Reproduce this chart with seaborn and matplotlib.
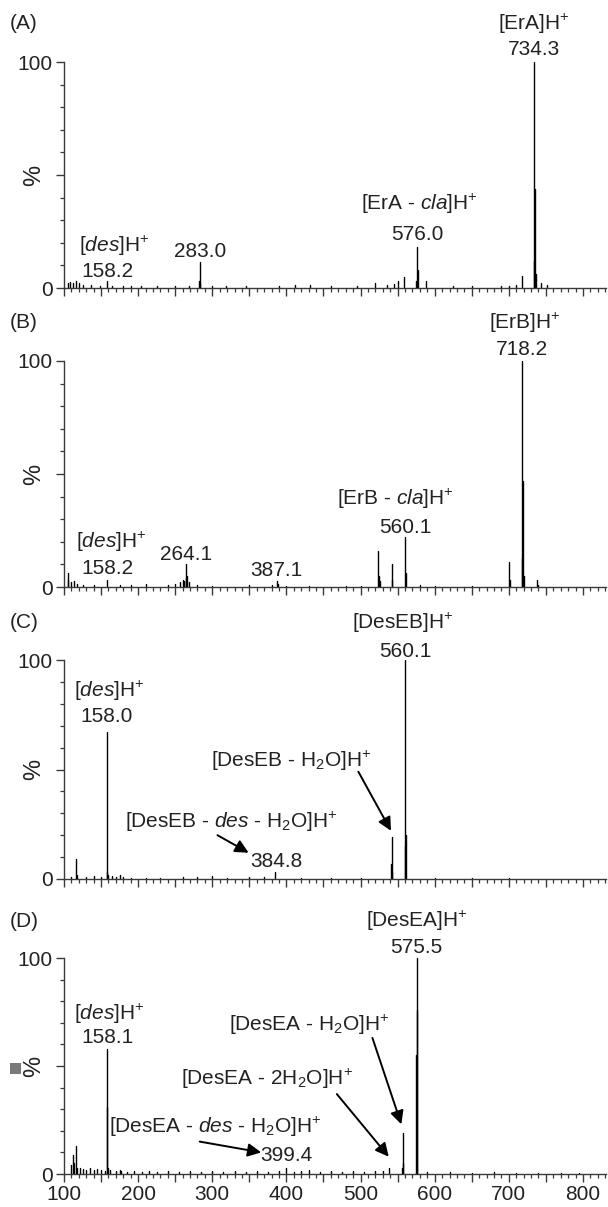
import numpy as np
import pandas as pd
import seaborn as sns
import matplotlib
matplotlib.use("Agg")
import matplotlib.pyplot as plt
from matplotlib.ticker import MultipleLocator, FixedLocator, FuncFormatter
from matplotlib.patches import Rectangle

# ---------------- data (m/z, relative intensity %) ----------------
a_mz = [105, 108, 112, 116, 120, 126, 137, 148, 158.2, 165, 180, 190, 204, 226, 250, 268,
        282, 283.0, 284, 300, 318, 345, 390, 412, 432, 460, 495, 520, 535, 545, 550, 559,
        575, 576.0, 577, 588, 625, 650, 690, 700, 710, 718, 733.6, 734.3, 735.0, 736, 744, 752]
a_int = [2, 2.5, 2, 3, 2, 1.5, 1.5, 1, 3, 1, 0.8, 0.8, 1, 0.8, 0.8, 1,
         3, 11.5, 2, 0.8, 0.8, 0.8, 0.8, 1.5, 1.2, 0.8, 1, 2, 1.2, 1.8, 3, 5,
         3, 18, 8, 3, 1, 0.8, 1, 1, 1.5, 5.5, 12, 100, 44, 6, 2, 1.5]

b_mz = [105, 106, 110, 114, 118, 125, 140, 158.2, 175, 190, 210, 240, 250, 256, 260, 262,
        264.1, 265, 266, 268, 280, 300, 350, 380, 387.1, 388, 400, 430, 480, 500,
        524, 525, 526, 542, 543, 560.1, 561, 580, 600, 650, 700, 701,
        717.6, 718.2, 718.9, 720, 738, 739]
b_int = [6, 3, 2, 2.5, 1.5, 1, 0.8, 3, 1, 1, 1.5, 1, 1.5, 2, 3, 2.5,
         10, 4, 5, 2, 1, 0.5, 0.8, 1, 2.5, 1.5, 0.5, 0.5, 0.5, 0.5,
         16, 5, 2.5, 10, 3, 22, 6, 0.8, 0.5, 0.5, 11, 3,
         13, 100, 47, 5, 3, 1]

c_mz = [110, 116, 117, 130, 140, 150, 157.4, 158.0, 159, 165, 170, 176, 180, 190, 210,
        230, 260, 280, 300, 320, 350, 370, 384.8, 420, 460, 500,
        541.5, 542.1, 542.8, 559.5, 560.1, 560.7, 600, 650, 700]
c_int = [1, 9, 2, 1, 1.2, 1, 3, 67, 2, 1.5, 1, 2, 1, 0.6, 0.6,
         0.6, 1, 0.8, 1.5, 0.6, 0.8, 1, 3, 0.6, 0.6, 0.6,
         7, 19, 3, 15, 100, 20, 0.5, 0.4, 0.4]

d_mz = [110, 112, 114, 116, 118, 122, 126, 130, 135, 140, 145, 150, 155, 157.5, 158.1, 159,
        162, 170, 175, 177, 185, 195, 205, 215, 225, 240, 255, 270, 285, 300, 315, 330,
        345, 360, 375, 390, 399.4, 410, 420, 430, 445, 460, 475, 490, 505, 520, 530, 539,
        556.4, 557.0, 557.6, 574.9, 575.5, 576.1, 590, 620, 650, 680, 710, 740, 770, 795]
d_int = [4, 9, 5, 13, 3, 3, 2.5, 2, 3, 2, 2.5, 2, 1.5, 31, 58, 3,
         2, 1.5, 2, 1.5, 1, 1.5, 1, 1.5, 1, 1.2, 1, 1.5, 1, 1.2, 1, 1.5,
         1, 1.2, 1, 1.5, 3, 1, 1.2, 2, 1, 1.2, 1, 1.2, 1, 1.2, 1.5, 3,
         3, 19, 5, 55, 100, 76, 0.8, 0.8, 0.6, 0.8, 0.6, 0.6, 0.5, 0.5]

panel_names = ["(A)", "(B)", "(C)", "(D)"]
x_ticks = [100, 200, 300, 400, 500, 600, 700, 800]

# ---------------- style ----------------
sns.set_theme(style="ticks")
plt.rcParams["font.family"] = ["Liberation Sans", "DejaVu Sans"]
plt.rcParams["mathtext.fontset"] = "custom"
plt.rcParams["mathtext.rm"] = "Liberation Sans"
plt.rcParams["mathtext.it"] = "Liberation Sans:italic"
plt.rcParams["mathtext.bf"] = "Liberation Sans:bold"

TXT = "#222222"
AX = "#3a3a3a"
FS = 15
TFS = 15

W, H = 608, 1207
fig = plt.figure(figsize=(W / 100, H / 100), dpi=100)
fig.patch.set_facecolor("white")

panel_px = [(62, 288), (361, 587), (660, 879), (958, 1174)]
left_px, right_px = 64, 606

spectra = [(a_mz, a_int), (b_mz, b_int), (c_mz, c_int), (d_mz, d_int)]
axes = []
for i, ((top, bot), (mz, inten)) in enumerate(zip(panel_px, spectra)):
    ax = fig.add_axes([left_px / W, 1 - bot / H, (right_px - left_px) / W, (bot - top) / H])
    axes.append(ax)
    df = pd.DataFrame({
        "mz": np.repeat(mz, 2),
        "intensity": np.ravel(np.column_stack([np.zeros(len(inten)), inten])),
        "peak": np.repeat(np.arange(len(mz)), 2),
    })
    sns.lineplot(data=df, x="mz", y="intensity", units="peak", estimator=None,
                 color="black", lw=1.0, ax=ax, legend=False, sort=False)
    ax.set_xlim(100, 100 + (right_px - left_px) / 0.7414)
    ax.set_ylim(0, 100)
    ax.set_xlabel("")
    ax.set_ylabel("")
    ax.set_facecolor("white")
    sns.despine(ax=ax)
    for s in ("left", "bottom"):
        ax.spines[s].set_color(AX)
        ax.spines[s].set_linewidth(1.0)
    # x ticks
    ax.xaxis.set_major_locator(MultipleLocator(50))
    ax.xaxis.set_minor_locator(MultipleLocator(10))
    if i == 3:
        ax.xaxis.set_major_formatter(FuncFormatter(
            lambda v, p: f"{int(v)}" if int(round(v)) in x_ticks else ""))
    else:
        ax.xaxis.set_major_formatter(FuncFormatter(lambda v, p: ""))
    # y ticks
    ax.yaxis.set_major_locator(FixedLocator([0, 50, 100]))
    ax.yaxis.set_minor_locator(MultipleLocator(10))
    ax.yaxis.set_major_formatter(FuncFormatter(
        lambda v, p: "100" if v == 100 else ("0" if v == 0 else "")))
    ax.tick_params(which="major", length=6, width=1.0, color=AX, labelsize=TFS,
                   labelcolor=TXT, pad=2, direction="out")
    ax.tick_params(which="minor", length=3, width=0.9, color=AX, direction="out")
    ax.text(-0.055, 0.5, "%", transform=ax.transAxes, rotation=90, ha="center",
            va="center", fontsize=17, color=TXT)
    ax.text(-0.1, 1.17, panel_names[i], transform=ax.transAxes, ha="left",
            va="center", fontsize=FS, color=TXT)

def lab(ax, s, x, y):
    ax.text(x, y, s, ha="center", va="center", fontsize=FS, color=TXT, clip_on=False)

def arrow(ax, x0, y0, x1, y1):
    ax.annotate("", xy=(x1, y1), xytext=(x0, y0),
                arrowprops=dict(arrowstyle="-|>", color="black", lw=1.4,
                                mutation_scale=20, shrinkA=0, shrinkB=0),
                annotation_clip=False)

# (A)
ax = axes[0]
lab(ax, r"[ErA]H$^{+}$", 734.3, 117)
lab(ax, "734.3", 734.3, 105.5)
lab(ax, r"[ErA - $\mathit{cla}$]H$^{+}$", 579, 37)
lab(ax, "576.0", 576.0, 23.5)
lab(ax, r"[$\mathit{des}$]H$^{+}$", 168, 18.5)
lab(ax, "158.2", 158.2, 7.5)
lab(ax, "283.0", 283.0, 16)

# (B)
ax = axes[1]
lab(ax, r"[ErB]H$^{+}$", 721, 117)
lab(ax, "718.2", 718.2, 105)
lab(ax, r"[ErB - $\mathit{cla}$]H$^{+}$", 547, 39)
lab(ax, "560.1", 560.1, 26.5)
lab(ax, r"[$\mathit{des}$]H$^{+}$", 164, 20)
lab(ax, "158.2", 158.2, 8)
lab(ax, "264.1", 264.1, 14.5)
lab(ax, "387.1", 387.1, 7.5)

# (C)
ax = axes[2]
lab(ax, r"[DesEB]H$^{+}$", 556.5, 117)
lab(ax, "560.1", 560.1, 104)
lab(ax, r"[$\mathit{des}$]H$^{+}$", 161.5, 86)
lab(ax, "158.0", 158.0, 74)
lab(ax, r"[DesEB - H$_{2}$O]H$^{+}$", 406.5, 54)
arrow(ax, 497, 49, 541, 22)
lab(ax, r"[DesEB - $\mathit{des}$ - H$_{2}$O]H$^{+}$", 326, 26)
arrow(ax, 307, 20, 349, 12)
lab(ax, "384.8", 386, 8)

# (D)
ax = axes[3]
lab(ax, r"[DesEA]H$^{+}$", 576.5, 117)
lab(ax, "575.5", 575.5, 105)
lab(ax, r"[$\mathit{des}$]H$^{+}$", 161.5, 74)
lab(ax, "158.1", 158.1, 63)
lab(ax, r"[DesEA - H$_{2}$O]H$^{+}$", 430.5, 69)
arrow(ax, 516, 63, 555, 23)
lab(ax, r"[DesEA - 2H$_{2}$O]H$^{+}$", 374, 44)
arrow(ax, 468, 37, 538, 8)
lab(ax, r"[DesEA - $\mathit{des}$ - H$_{2}$O]H$^{+}$", 304, 22)
arrow(ax, 283, 15, 366, 10)
lab(ax, "399.4", 400, 8.5)
ax.add_patch(Rectangle((-0.1, 0.465), 0.02, 0.05, transform=ax.transAxes,
                       clip_on=False, facecolor="#7a7a7a", edgecolor="none"))

fig.savefig("out.png", dpi=100, facecolor="white")
